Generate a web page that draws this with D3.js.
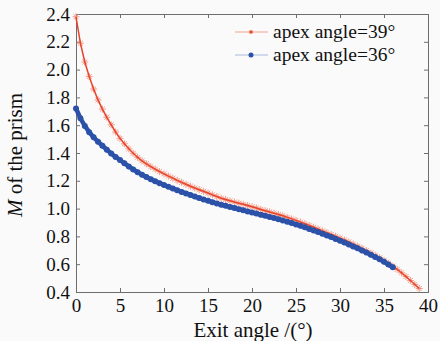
<!DOCTYPE html>
<html>
<head>
<meta charset="utf-8">
<script src="https://cdn.jsdelivr.net/npm/d3@7"></script>
<style>
  html, body { margin: 0; padding: 0; background: #fafafa; }
  svg { display: block; }
  svg text { font-family: "Liberation Serif", "Times New Roman", "DejaVu Serif", serif; }
</style>
</head>
<body>
<svg id="chart" width="440" height="341"></svg>
<script>
const step = 0.5;

const apex39 = [
  2.38, 2.19, 2.055, 1.950, 1.860, 1.782, 1.716, 1.657, 1.603, 1.551,
  1.505, 1.466, 1.430, 1.398, 1.369, 1.344, 1.322, 1.302, 1.284, 1.266,
  1.250, 1.234, 1.219, 1.203, 1.189, 1.175, 1.161, 1.148, 1.136, 1.124,
  1.112, 1.099, 1.087, 1.075, 1.065, 1.056, 1.047, 1.039, 1.031, 1.022,
  1.013, 1.004, 0.994, 0.985, 0.976, 0.967, 0.958, 0.948, 0.937, 0.926,
  0.915, 0.903, 0.891, 0.879, 0.866, 0.853, 0.840, 0.827, 0.814, 0.801,
  0.788, 0.774, 0.760, 0.745, 0.730, 0.714, 0.698, 0.681, 0.664, 0.646,
  0.627, 0.607, 0.586, 0.563, 0.538, 0.511, 0.483, 0.454, 0.425
];

const apex36 = [
  1.72, 1.650, 1.595, 1.550, 1.513, 1.481, 1.452, 1.424, 1.397, 1.372,
  1.35, 1.326, 1.303, 1.282, 1.262, 1.244, 1.227, 1.211, 1.196, 1.183,
  1.17, 1.157, 1.145, 1.132, 1.12, 1.109, 1.098, 1.087, 1.076, 1.066,
  1.056, 1.046, 1.037, 1.028, 1.02, 1.012, 1.004, 0.996, 0.988, 0.980,
  0.972, 0.964, 0.956, 0.948, 0.940, 0.932, 0.924, 0.915, 0.906, 0.896,
  0.886, 0.876, 0.865, 0.854, 0.843, 0.831, 0.819, 0.807, 0.795, 0.782,
  0.769, 0.756, 0.742, 0.728, 0.714, 0.699, 0.684, 0.668, 0.652, 0.635,
  0.617, 0.598, 0.578
];

const xTicks = [0, 5, 10, 15, 20, 25, 30, 35, 40];
const yTicks = [0.4, 0.6, 0.8, 1.0, 1.2, 1.4, 1.6, 1.8, 2.0, 2.2, 2.4];
const legendLabels = ['apex angle=39°', 'apex angle=36°'];

const margin = { left: 76, right: 12, top: 14, bottom: 49 };
const width = 440, height = 341;

const svg = d3.select('#chart');

const x = d3.scaleLinear().domain([0, 40]).range([margin.left, width - margin.right]);
const y = d3.scaleLinear().domain([0.4, 2.4]).range([height - margin.bottom, margin.top]);

const toPoints = vals => vals.map((v, i) => [i * step, v]);
const red = toPoints(apex39);
const blue = toPoints(apex36);

const tickLen = 4;
const axisColor = '#6e6e6e';

// bottom / top / left / right axes, ticks inward
const axisB = svg.append('g')
  .attr('transform', `translate(0,${y.range()[0]})`)
  .call(d3.axisBottom(x).tickValues(xTicks).tickSize(-tickLen).tickPadding(7).tickFormat(d3.format('d')));
const axisT = svg.append('g')
  .attr('transform', `translate(0,${y.range()[1]})`)
  .call(d3.axisTop(x).tickValues(xTicks).tickSize(-tickLen).tickFormat(''));
const axisL = svg.append('g')
  .attr('transform', `translate(${x.range()[0]},0)`)
  .call(d3.axisLeft(y).tickValues(yTicks).tickSize(-tickLen).tickPadding(6).tickFormat(d3.format('.1f')));
const axisR = svg.append('g')
  .attr('transform', `translate(${x.range()[1]},0)`)
  .call(d3.axisRight(y).tickValues(yTicks).tickSize(-tickLen).tickFormat(''));

[axisB, axisT, axisL, axisR].forEach(g => {
  g.attr('font-family', null);
  g.select('.domain').attr('stroke', axisColor);
  g.selectAll('.tick line').attr('stroke', axisColor);
  g.selectAll('text')
    .attr('fill', '#111')
    .style('font-size', '19px');
});

// series
const line = d3.line().x(d => x(d[0])).y(d => y(d[1]));

function starPath(s) {
  const a = s * 0.7;
  return `M${-s},0L${s},0M0,${-s}L0,${s}M${-a},${-a}L${a},${a}M${-a},${a}L${a},${-a}`;
}

const redG = svg.append('g');
redG.selectAll('path.star')
  .data(red)
  .join('path')
  .attr('class', 'star')
  .attr('transform', d => `translate(${x(d[0])},${y(d[1])})`)
  .attr('d', starPath(3.5))
  .attr('stroke', '#f39a88')
  .attr('stroke-width', 1)
  .attr('fill', 'none');
redG.append('path')
  .datum(red)
  .attr('d', line)
  .attr('fill', 'none')
  .attr('stroke', '#e8432b')
  .attr('stroke-width', 1.5);

const blueG = svg.append('g');
blueG.append('path')
  .datum(blue)
  .attr('d', line)
  .attr('fill', 'none')
  .attr('stroke', '#2b52a8')
  .attr('stroke-width', 4.5);
blueG.selectAll('circle')
  .data(blue)
  .join('circle')
  .attr('cx', d => x(d[0]))
  .attr('cy', d => y(d[1]))
  .attr('r', 3)
  .attr('fill', '#2b52a8');

// legend
const legend = svg.append('g');
const legendY = [32, 55];
legendLabels.forEach((label, i) => {
  const g = legend.append('g').attr('transform', `translate(0,${legendY[i]})`);
  g.append('line')
    .attr('x1', 235).attr('x2', 268)
    .attr('stroke', i === 0 ? '#f4a090' : '#aab8dc')
    .attr('stroke-width', 1);
  if (i === 0) {
    g.append('path').attr('transform', 'translate(251,0)').attr('d', starPath(2))
      .attr('stroke', '#e8432b').attr('fill', 'none');
  } else {
    g.append('circle').attr('cx', 251).attr('r', 2.5).attr('fill', '#2b52a8');
  }
  g.append('text')
    .attr('x', 273).attr('y', 6)
    .style('font-size', '19.5px')
    .attr('fill', '#111')
    .text(label);
});

// axis titles
svg.append('text')
  .attr('x', 253).attr('y', 337)
  .attr('text-anchor', 'middle')
  .style('font-size', '21px')
  .attr('fill', '#111')
  .text('Exit angle /(°)');

const yTitle = svg.append('text')
  .attr('transform', 'translate(22,155) rotate(-90)')
  .attr('text-anchor', 'middle')
  .style('font-size', '21px')
  .attr('fill', '#111');
yTitle.append('tspan').style('font-style', 'italic').text('M');
yTitle.append('tspan').text(' of the prism');
</script>
</body>
</html>
